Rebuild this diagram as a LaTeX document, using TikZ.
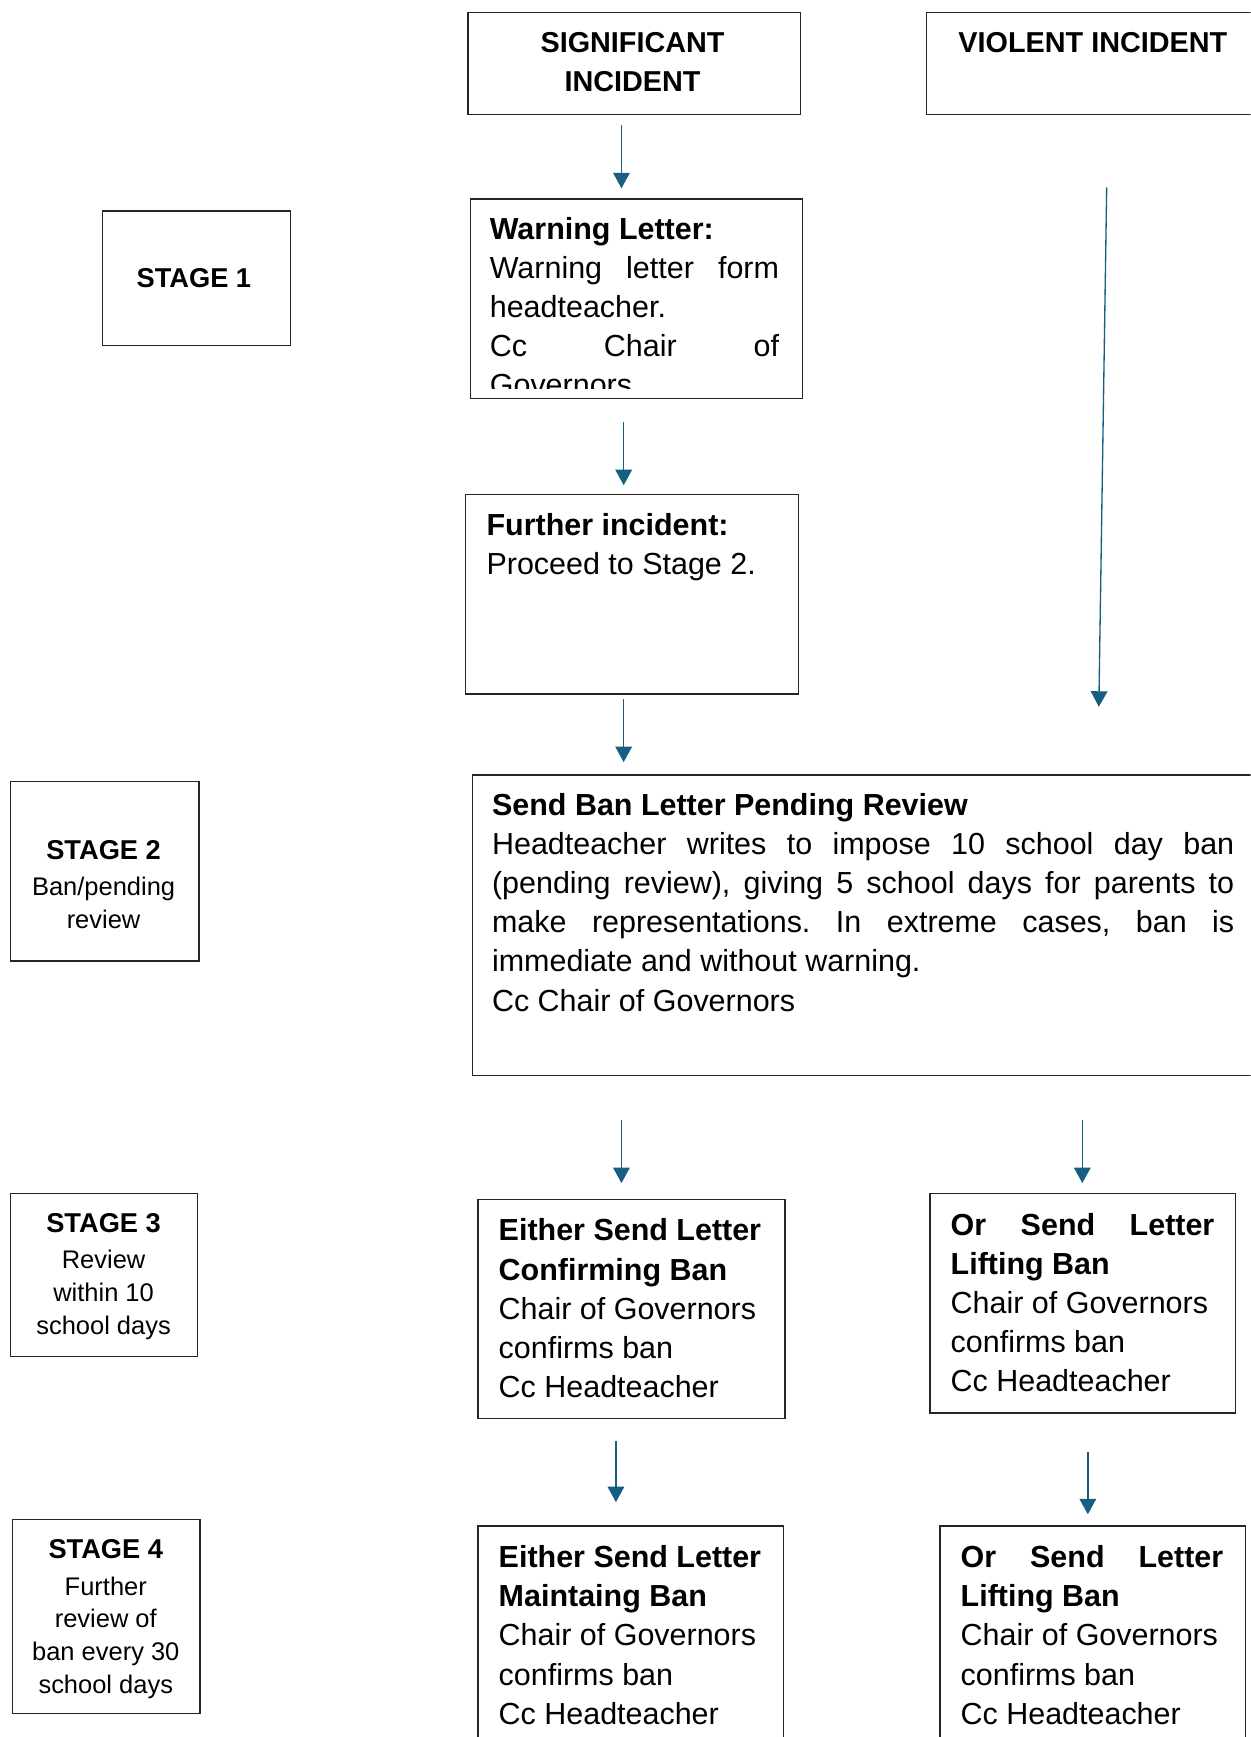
\documentclass[tikz,border=0pt]{standalone}
\usepackage{fontspec}
\setmainfont{Liberation Sans}
\usetikzlibrary{arrows.meta}
\definecolor{arrc}{RGB}{21,96,130}
\newcommand{\fstrut}[1]{\rule{0pt}{#1pt}}
\frenchspacing
\begin{document}
\frenchspacing
\begin{tikzpicture}[x=1pt,y=-1pt,
  box/.style={draw=black!85, line width=1.1pt, inner sep=0, anchor=north west},
  txt/.style={inner sep=0, anchor=north west, align=left},
  ctxt/.style={inner sep=0, anchor=north, align=center},
  arr/.style={draw=arrc, line width=1.2pt, -{Triangle[length=14pt,width=15pt]}},
  body/.style={font=\fontsize{27.5}{35.3}\selectfont},
  head/.style={font=\fontsize{26}{35}\selectfont\bfseries},
  stagef/.style={font=\fontsize{23}{29.5}\selectfont},
  stageh/.style={font=\fontsize{24.6}{29.5}\selectfont\bfseries},
]
\useasboundingbox (0,0) rectangle (1129,1568);
\clip (0,0) rectangle (1129,1568);

% ---------- boxes ----------
\node[box, minimum width=300pt, minimum height=92pt]  (sig)    at (422,11)   {};
\node[box, minimum width=304pt, minimum height=92pt]  (vio)    at (836,11)   {};
\node[box, minimum width=170pt, minimum height=121pt] (st1)    at (92,190)   {};
\node[box, minimum width=300pt, minimum height=180pt] (warn)   at (424,179)  {};
\node[box, minimum width=300pt, minimum height=180pt] (fur)    at (420,446)  {};
\node[box, minimum width=170pt, minimum height=162pt] (st2)    at (9,705)    {};
\node[box, minimum width=714pt, minimum height=271pt] (ban)    at (426,699)  {};
\node[box, minimum width=169pt, minimum height=147pt] (st3)    at (9,1077)   {};
\node[box, minimum width=277pt, minimum height=198pt] (eitc)   at (431,1082) {};
\node[box, minimum width=276pt, minimum height=198pt] (orl3)   at (839,1077) {};
\node[box, minimum width=169pt, minimum height=175pt] (st4)    at (11,1371)  {};
\node[box, minimum width=276pt, minimum height=230pt] (eitm)   at (431,1377) {};
\node[box, minimum width=276pt, minimum height=230pt] (orl4)   at (848,1377) {};

% ---------- texts ----------
\node[ctxt, head] (sigT) at (571,22.3) {\fstrut{25}SIGNIFICANT\\INCIDENT};
\node[txt, head]  (vioT) at (865,22.3) {\fstrut{25}VIOLENT INCIDENT};

\node[ctxt, stageh] (st1T) at (175,236.6) {\fstrut{23}STAGE 1};

\begin{scope}
  \clip (424,179) rectangle (724,351);
  \node[txt, body] (warnT) at (442,190) {%
    \fstrut{26}\textbf{Warning Letter:}\\
    \makebox[261pt][s]{Warning letter form}\\
    headteacher.\\
    \makebox[261pt][s]{Cc Chair of}\\
    Governors};
\end{scope}

\node[txt, body] (furT) at (439,457) {\fstrut{26}\textbf{Further incident:}\\Proceed to Stage 2.};

\node[ctxt, stagef] (st2T) at (93.5,752.6)
  {{\fontsize{24.6}{29.5}\selectfont\bfseries\fstrut{23}STAGE 2}\\[3.5pt]Ban/pending\\review};

\node[txt, body] (banT) at (444,710) {%
  \fstrut{26}\textbf{Send Ban Letter Pending Review}\\
  \makebox[670pt][s]{Headteacher writes to impose 10 school day ban}\\
  \makebox[670pt][s]{(pending review), giving 5 school days for parents to}\\
  \makebox[670pt][s]{make representations. In extreme cases, ban is}\\
  immediate and without warning.\\
  Cc Chair of Governors};

\node[ctxt, stagef] (st3T) at (93.5,1089.6)
  {{\fontsize{24.6}{29.5}\selectfont\bfseries\fstrut{23}STAGE 3}\\[3pt]Review\\within 10\\school days};

\node[txt, body] (eitcT) at (450,1094) {%
  \fstrut{26}\textbf{Either Send Letter}\\
  \textbf{Confirming Ban}\\
  Chair of Governors\\
  confirms ban\\
  Cc Headteacher};

\node[txt, body] (orl3T) at (858,1089) {%
  \fstrut{26}\makebox[238pt][s]{\bfseries Or Send Letter}\\
  \textbf{Lifting Ban}\\
  Chair of Governors\\
  confirms ban\\
  Cc Headteacher};

\node[ctxt, stagef] (st4T) at (95.5,1383.6)
  {{\fontsize{24.6}{29.5}\selectfont\bfseries\fstrut{23}STAGE 4}\\[3.5pt]Further\\review of\\ban every 30\\school days};

\node[txt, body] (eitmT) at (450,1389) {%
  \fstrut{26}\textbf{Either Send Letter}\\
  \textbf{Maintaing Ban}\\
  Chair of Governors\\
  confirms ban\\
  Cc Headteacher};

\node[txt, body] (orl4T) at (867,1389) {%
  \fstrut{26}\makebox[237pt][s]{\bfseries Or Send Letter}\\
  \textbf{Lifting Ban}\\
  Chair of Governors\\
  confirms ban\\
  Cc Headteacher};

% ---------- connectors ----------
\coordinate (x556) at (556,0);
\coordinate (x561) at (561,0);
\coordinate (x563) at (563,0);
\coordinate (x977) at (977,0);
\coordinate (x982) at (982,0);
\coordinate (x991) at (991,0);
\coordinate (x1000) at (1000,0);

\draw[arr, shorten <=9pt,  shorten >=9pt]  (sig.south -| x561)  -- (warn.north -| x561);
\draw[arr, shorten <=21pt, shorten >=8pt]  (warn.south -| x563) -- (fur.north -| x563);
\draw[arr, shorten <=4pt,  shorten >=11pt] (fur.south -| x563)  -- (ban.north -| x563);
\draw[arr, shorten <=65pt, shorten >=61pt] (vio.south -| x1000) -- (ban.north -| x991);
\draw[arr, shorten <=40pt, shorten >=14pt] (ban.south -| x561)  -- (eitc.north -| x561);
\draw[arr, shorten <=40pt, shorten >=9pt]  (ban.south -| x977)  -- (orl3.north -| x977);
\draw[arr, shorten <=20pt, shorten >=21pt] (eitc.south -| x556) -- (eitm.north -| x556);
\draw[arr, shorten <=35pt, shorten >=10pt] (orl3.south -| x982) -- (orl4.north -| x982);
\end{tikzpicture}
\end{document}
